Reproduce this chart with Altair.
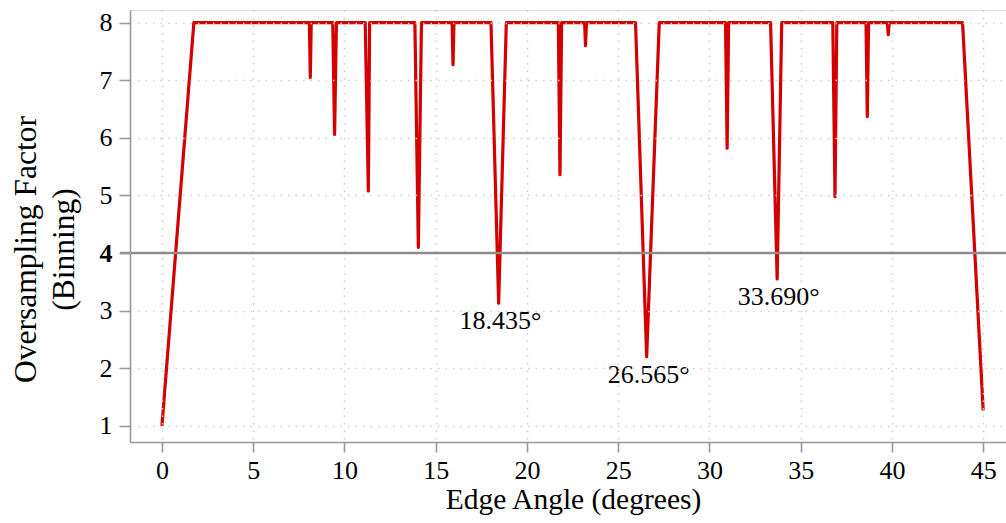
import altair as alt
import pandas as pd

# Edge angle (degrees) and oversampling factor vertices
angles = [0.0, 1.75,
          8.08, 8.13, 8.18,
          9.36, 9.46, 9.56,
          11.14, 11.31, 11.38,
          13.86, 14.05, 14.22,
          15.90, 15.95, 16.00,
          18.03, 18.45, 18.87,
          21.72, 21.81, 21.90,
          23.16, 23.21, 23.26,
          25.95, 26.56, 27.25,
          30.88, 30.97, 31.05,
          33.35, 33.71, 33.96,
          36.76, 36.88, 36.98,
          38.58, 38.65, 38.72,
          39.75, 39.80, 39.85,
          43.87, 45.0]
factors = [1.0, 8,
           8, 7.05, 8,
           8, 6.06, 8,
           8, 5.08, 8,
           8, 4.10, 8,
           8, 7.27, 8,
           8, 3.13, 8,
           8, 5.36, 8,
           8, 7.60, 8,
           8, 2.20, 8,
           8, 5.82, 8,
           8, 3.55, 8,
           8, 4.98, 8,
           8, 6.37, 8,
           8, 7.79, 8,
           8, 1.27]

ann_labels = ["18.435°", "26.565°", "33.690°"]
ann_x = [18.435, 26.565, 33.690]
ann_y = [3.13, 2.20, 3.55]

threshold = [4]

x_ticks = [0, 5, 10, 15, 20, 25, 30, 35, 40, 45]
y_ticks = [1, 2, 3, 4, 5, 6, 7, 8]

FONT = "Liberation Serif"

df = pd.DataFrame({"angle": angles, "factor": factors, "order": list(range(len(angles)))})
ann = pd.DataFrame({"label": ann_labels, "angle": ann_x, "factor": ann_y})
thr = pd.DataFrame({"factor": threshold})

xscale = alt.Scale(domain=[-1.75, 46.25], nice=False, zero=False)
yscale = alt.Scale(domain=[0.72, 8.22], nice=False, zero=False)

xaxis = alt.Axis(
    values=x_ticks, title="Edge Angle (degrees)", grid=True, format="d",
    gridColor="#cfcfcf", gridDash=[1.5, 6], gridWidth=1.5,
    domainColor="#999999", domainWidth=1.6, tickColor="#999999", tickWidth=1.6,
    tickSize=10, labelFontSize=26, labelFont=FONT, labelColor="black",
    labelBaseline="alphabetic", labelPadding=26,
    titleFont=FONT, titleFontSize=29.5, titleFontWeight="normal", titleColor="black",
    titleBaseline="alphabetic", titleAlign="center", titleX=443, titleY=66, zindex=1,
)
yaxis = alt.Axis(
    values=y_ticks, title=["Oversampling Factor", "(Binning)"], grid=True, format="d",
    gridColor="#cfcfcf", gridDash=[1.5, 6], gridWidth=1.5,
    gridOpacity=alt.condition("datum.value == 4", alt.value(0), alt.value(1)),
    domainColor="#999999", domainWidth=1.6, tickColor="#999999", tickWidth=1.6,
    tickSize=11, labelFontSize=26, labelFont=FONT, labelColor="black",
    labelPadding=7,
    labelFontWeight=alt.condition("datum.value == 4", alt.value("bold"), alt.value("normal")),
    titleFont=FONT, titleFontSize=31.5, titleFontWeight="normal", titleColor="black",
    titleBaseline="alphabetic", titleAlign="center",
    titleLineHeight=38, titleX=-95, titleY=239, zindex=1,
)

line = alt.Chart(df).mark_line(color="#d40000", strokeWidth=3.2, strokeJoin="round").encode(
    x=alt.X("angle:Q", scale=xscale, axis=xaxis),
    y=alt.Y("factor:Q", scale=yscale, axis=yaxis),
    order="order:Q",
)

rule = alt.Chart(thr).mark_rule(color="#8c8c8c", strokeWidth=2.5).encode(
    y=alt.Y("factor:Q", scale=yscale),
    x=alt.value(-10), x2=alt.value(876),
)

text = alt.Chart(ann).mark_text(
    font=FONT, fontSize=26, color="black", baseline="alphabetic", align="center", dy=26, dx=2
).encode(
    x=alt.X("angle:Q", scale=xscale),
    y=alt.Y("factor:Q", scale=yscale),
    text="label:N",
)

chart = alt.layer(line, rule, text).properties(
    width=876, height=432,
    autosize=alt.AutoSizeParams(type="none"),
    padding={"left": 130, "top": 10, "right": 0, "bottom": 81},
).configure_view(strokeWidth=0).configure(background="white")

chart.save("out.html", embed_options={"renderer": "svg", "actions": False})
